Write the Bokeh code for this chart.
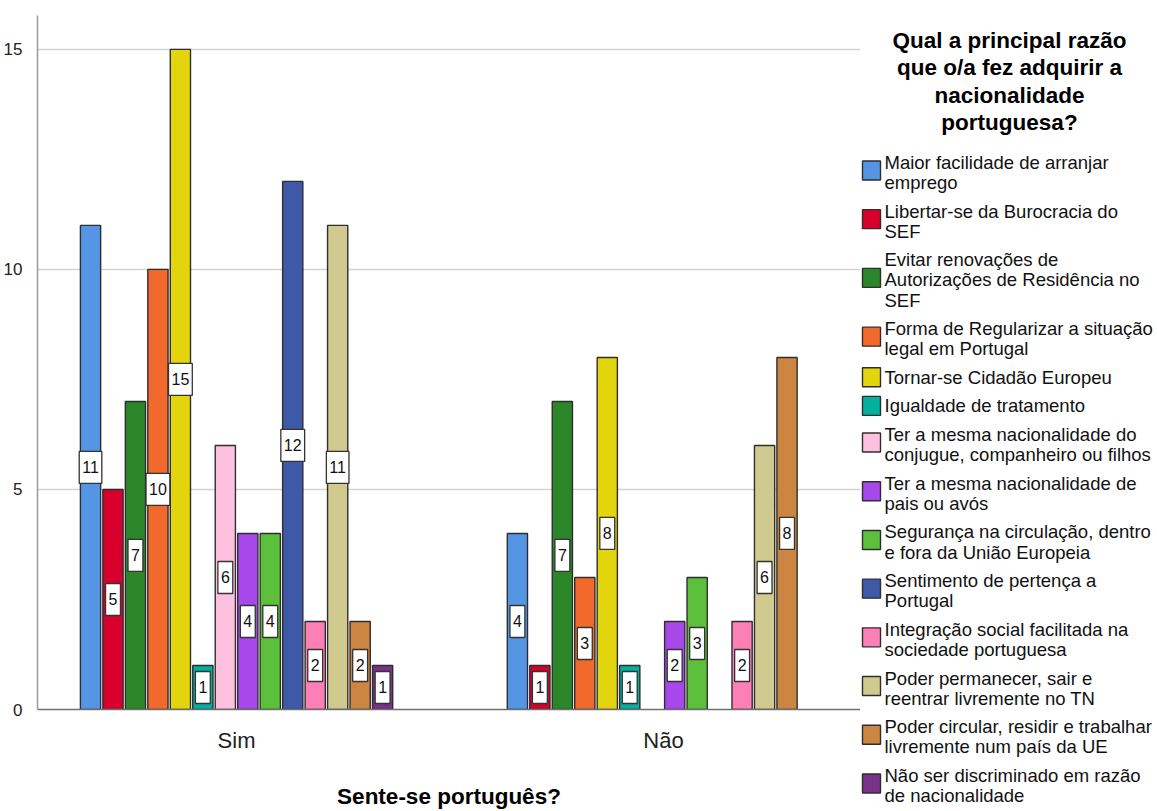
from bokeh.plotting import figure
from bokeh.models import ColumnDataSource, Range1d, FixedTicker
from bokeh.layouts import row
from bokeh.embed import file_html
from bokeh.resources import INLINE
from bokeh.core.properties import value

# ---- data -----------------------------------------------------------------
groups = ["Sim", "Não"]

reasons = [
    "Maior facilidade de arranjar\nemprego",
    "Libertar-se da Burocracia do\nSEF",
    "Evitar renovações de\nAutorizações de Residência no\nSEF",
    "Forma de Regularizar a situação\nlegal em Portugal",
    "Tornar-se Cidadão Europeu",
    "Igualdade de tratamento",
    "Ter a mesma nacionalidade do\nconjugue, companheiro ou filhos",
    "Ter a mesma nacionalidade de\npais ou avós",
    "Segurança na circulação, dentro\ne fora da União Europeia",
    "Sentimento de pertença a\nPortugal",
    "Integração social facilitada na\nsociedade portuguesa",
    "Poder permanecer, sair e\nreentrar livremente no TN",
    "Poder circular, residir e trabalhar\nlivremente num país da UE",
    "Não ser discriminado em razão\nde nacionalidade",
]

reason_colors = [
    "#5596e4", "#d7002d", "#2a8629", "#f26a2b", "#e2d50e", "#02b09e", "#fdc1df",
    "#a848eb", "#5dc03a", "#3d59a8", "#fc80b6", "#d0ca8f", "#cd8641", "#7a3189",
]

counts_sim = [11, 5, 7, 10, 15, 1, 6, 4, 4, 12, 2, 11, 2, 1]
counts_nao = [4, 1, 7, 3, 8, 1, 0, 2, 3, 0, 2, 6, 8, 0]

legend_title = "Qual a principal razão\nque o/a fez adquirir a\nnacionalidade\nportuguesa?"
x_title = "Sente-se português?"
y_ticks = [0, 5, 10, 15]

FONT = "Liberation Sans"

# ---- bar positions: one slot per reason, empty slots between groups --------
n = len(reasons)
GAP = 5
xs, tops, mids, fills, labels = [], [], [], [], []
for g, counts in enumerate([counts_sim, counts_nao]):
    base = g * (n + GAP)
    for i, c in enumerate(counts):
        if c == 0:
            continue
        xs.append(base + i)
        tops.append(c)
        mids.append(c / 2)
        fills.append(reason_colors[i])
        labels.append(str(c))

bars = ColumnDataSource(dict(x=xs, top=tops, mid=mids, color=fills, label=labels))
group_centers = [g * (n + GAP) + (n - 1) / 2 for g in range(len(groups))]

# ---- main chart -------------------------------------------------------------
p = figure(
    width=860, height=811,
    x_range=Range1d(-2.36, 34.27), y_range=Range1d(0, 15.77),
    output_backend="svg", toolbar_location=None,
    min_border_left=37, min_border_right=0, min_border_top=15, min_border_bottom=97,
)
p.frame_align = False
p.outline_line_color = None
p.background_fill_color = "white"

p.vbar(x="x", top="top", width=0.9, fill_color="color",
       line_color="#2e2e2e", line_width=1.4, source=bars)

p.text(x="x", y="mid", text="label", source=bars,
       text_align="center", text_baseline="middle",
       text_font=value(FONT), text_font_size="16px", text_color="#111111",
       background_fill_color="white", border_line_color="#333333",
       border_line_width=1.3, padding=dict(left=3, right=3, top=10, bottom=10))

p.yaxis.ticker = FixedTicker(ticks=y_ticks)
p.yaxis.major_tick_line_color = None
p.yaxis.minor_tick_line_color = None
p.yaxis.major_label_standoff = 9
p.yaxis.axis_line_color = "#9a9a9a"
p.yaxis.axis_line_width = 1.5
p.yaxis.major_label_text_font = FONT
p.yaxis.major_label_text_font_size = "17px"
p.yaxis.major_label_text_color = "#222222"

p.ygrid.ticker = FixedTicker(ticks=y_ticks)
p.ygrid.grid_line_color = "#d2d2d2"
p.ygrid.grid_line_width = 1.5
p.xgrid.grid_line_color = None

p.xaxis.ticker = FixedTicker(ticks=group_centers)
p.xaxis.major_label_overrides = {c: g for c, g in zip(group_centers, groups)}
p.xaxis.major_tick_line_color = None
p.xaxis.minor_tick_line_color = None
p.xaxis.major_label_standoff = 12
p.xaxis.axis_line_color = "#707070"
p.xaxis.axis_line_width = 1.5
p.xaxis.major_label_text_font = FONT
p.xaxis.major_label_text_font_size = "22px"
p.xaxis.major_label_text_color = "#222222"
p.xaxis.axis_label = x_title
p.xaxis.axis_label_text_font = FONT
p.xaxis.axis_label_text_font_size = "22.5px"
p.xaxis.axis_label_text_font_style = "bold"
p.xaxis.axis_label_text_color = "#000000"
p.xaxis.axis_label_standoff = 28

# ---- legend panel (pixel-like coordinates, y grows downward) ---------------
LW, LH = 297, 811
lg = figure(
    width=LW, height=LH,
    x_range=Range1d(0, LW), y_range=Range1d(LH, 0),
    x_axis_type=None, y_axis_type=None,
    output_backend="svg", toolbar_location=None, min_border=0,
)
lg.frame_align = False
lg.outline_line_color = None
lg.grid.visible = False

# each legend entry is a block of wrapped lines; the swatch sits beside it
line_px, item_gap, y = 20.1, 8.5, 151.85
box_y, line_y, line_txt = [], [], []
for lab in reasons:
    lines = lab.split("\n")
    h = len(lines) * line_px
    box_y.append(y + h / 2 - (2 if len(lines) > 1 else 0))
    for k, t in enumerate(lines):
        line_y.append(y + (k + 0.5) * line_px)
        line_txt.append(t)
    y += h + item_gap

swatches = ColumnDataSource(dict(y=box_y, color=reason_colors))
lg.rect(x=11, y="y", width=18, height=19, fill_color="color",
        line_color="#2e2e2e", line_width=1.4, source=swatches)

entry_lines = ColumnDataSource(dict(y=line_y, text=line_txt))
lg.text(x=24, y="y", text="text", source=entry_lines,
        text_align="left", text_baseline="middle",
        text_font=value(FONT), text_font_size="18.5px", text_color="#111111")

title_lines = legend_title.split("\n")
title_src = ColumnDataSource(dict(
    y=[39.5 + 27.5 * k for k in range(len(title_lines))], text=title_lines))
lg.text(x=149, y="y", text="text", source=title_src,
        text_align="center", text_baseline="middle",
        text_font=value(FONT), text_font_size="22.5px", text_font_style="bold",
        text_color="#000000")

layout = row(p, lg)
open("out.html", "w").write(file_html(layout, INLINE))
